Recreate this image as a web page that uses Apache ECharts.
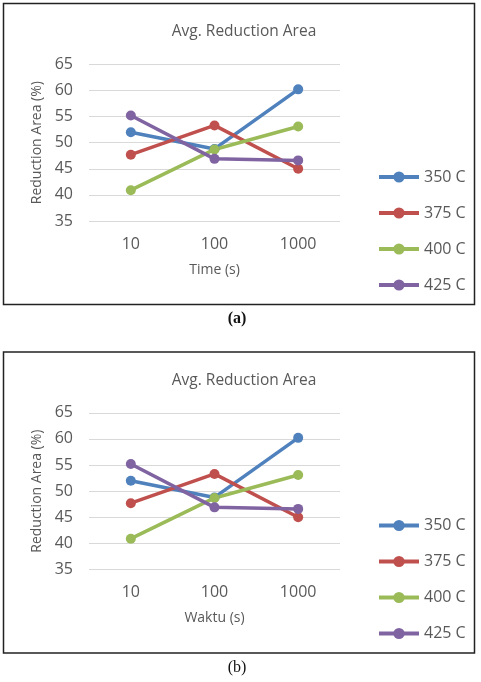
<!DOCTYPE html>
<html>
<head>
<meta charset="utf-8">
<script src="https://cdn.jsdelivr.net/npm/echarts@6/dist/echarts.min.js"></script>
<style>
  html, body { margin: 0; padding: 0; background: #fff; }
  #main { width: 481px; height: 682px; }
</style>
</head>
<body>
<div id="main"></div>
<script>
var categories = ['10', '100', '1000'];
var seriesNames = ['350 C', '375 C', '400 C', '425 C'];
var s350 = [52.0, 48.8, 60.2];
var s375 = [47.7, 53.3, 45.0];
var s400 = [40.9, 48.7, 53.1];
var s425 = [55.2, 46.9, 46.6];
var yTicks = [35, 40, 45, 50, 55, 60, 65];
var colors = ['#4F81BD', '#C0504D', '#9BBB59', '#8064A2'];
var panels = [
  { xName: 'Time (s)', caption: '(a)', bold: true, dy: 0 },
  { xName: 'Waktu (s)', caption: '(b)', bold: false, dy: 348.5 }
];

var font = 'Open Sans';
var grey = '#595959';
var values = [s350, s375, s400, s425];

var option = {
  backgroundColor: '#fff',
  color: colors,
  textStyle: { fontFamily: font },
  title: [], legend: [], grid: [], xAxis: [], yAxis: [], series: [], graphic: []
};

panels.forEach(function (p, i) {
  option.title.push({
    text: 'Avg. Reduction Area',
    left: 239, top: 19 + p.dy, textAlign: 'center',
    textStyle: { fontFamily: font, fontSize: 15.5, fontWeight: 'normal', color: grey }
  });
  option.grid.push({ left: 89, width: 251, top: 64.3 + p.dy, height: 156.7 });
  option.xAxis.push({
    type: 'category', gridIndex: i, data: categories,
    name: p.xName, nameLocation: 'middle', nameGap: 42,
    nameTextStyle: { fontFamily: font, fontSize: 14, color: grey },
    axisLine: { show: false }, axisTick: { show: false },
    axisLabel: { fontFamily: font, fontSize: 16, color: grey, margin: 15 }
  });
  option.yAxis.push({
    type: 'value', gridIndex: i,
    min: yTicks[0], max: yTicks[yTicks.length - 1], interval: 5,
    name: 'Reduction Area (%)', nameLocation: 'middle', nameGap: 43,
    nameTextStyle: { fontFamily: font, fontSize: 14, color: grey },
    axisLine: { show: false }, axisTick: { show: false },
    axisLabel: { fontFamily: font, fontSize: 16, color: grey, margin: 16 },
    splitLine: { lineStyle: { color: '#D9D9D9', width: 1 } }
  });
  option.legend.push({
    orient: 'vertical', left: 372, top: 164 + p.dy,
    itemWidth: 40, itemHeight: 14, itemGap: 20,
    data: seriesNames,
    lineStyle: { width: 4 },
    textStyle: { fontFamily: font, fontSize: 16, color: grey }
  });
  seriesNames.forEach(function (n, k) {
    option.series.push({
      name: n, type: 'line', xAxisIndex: i, yAxisIndex: i,
      data: values[k], symbol: 'circle', symbolSize: 10,
      lineStyle: { width: 3.5 }, itemStyle: { color: colors[k] }
    });
  });
  option.graphic.push({
    type: 'rect', shape: { x: 3.5, y: 3.5 + p.dy, width: 471, height: 301 },
    style: { fill: null, stroke: '#222', lineWidth: 1.5 }
  });
  option.graphic.push({
    type: 'text', x: 237, y: 319 + p.dy,
    style: {
      text: p.caption, fontFamily: 'Liberation Serif', fontSize: 16,
      fontWeight: p.bold ? 'bold' : 'normal', fill: '#111',
      textAlign: 'center', textVerticalAlign: 'middle'
    }
  });
});

var chart = echarts.init(document.getElementById('main'));
chart.setOption(option);
</script>
</body>
</html>
